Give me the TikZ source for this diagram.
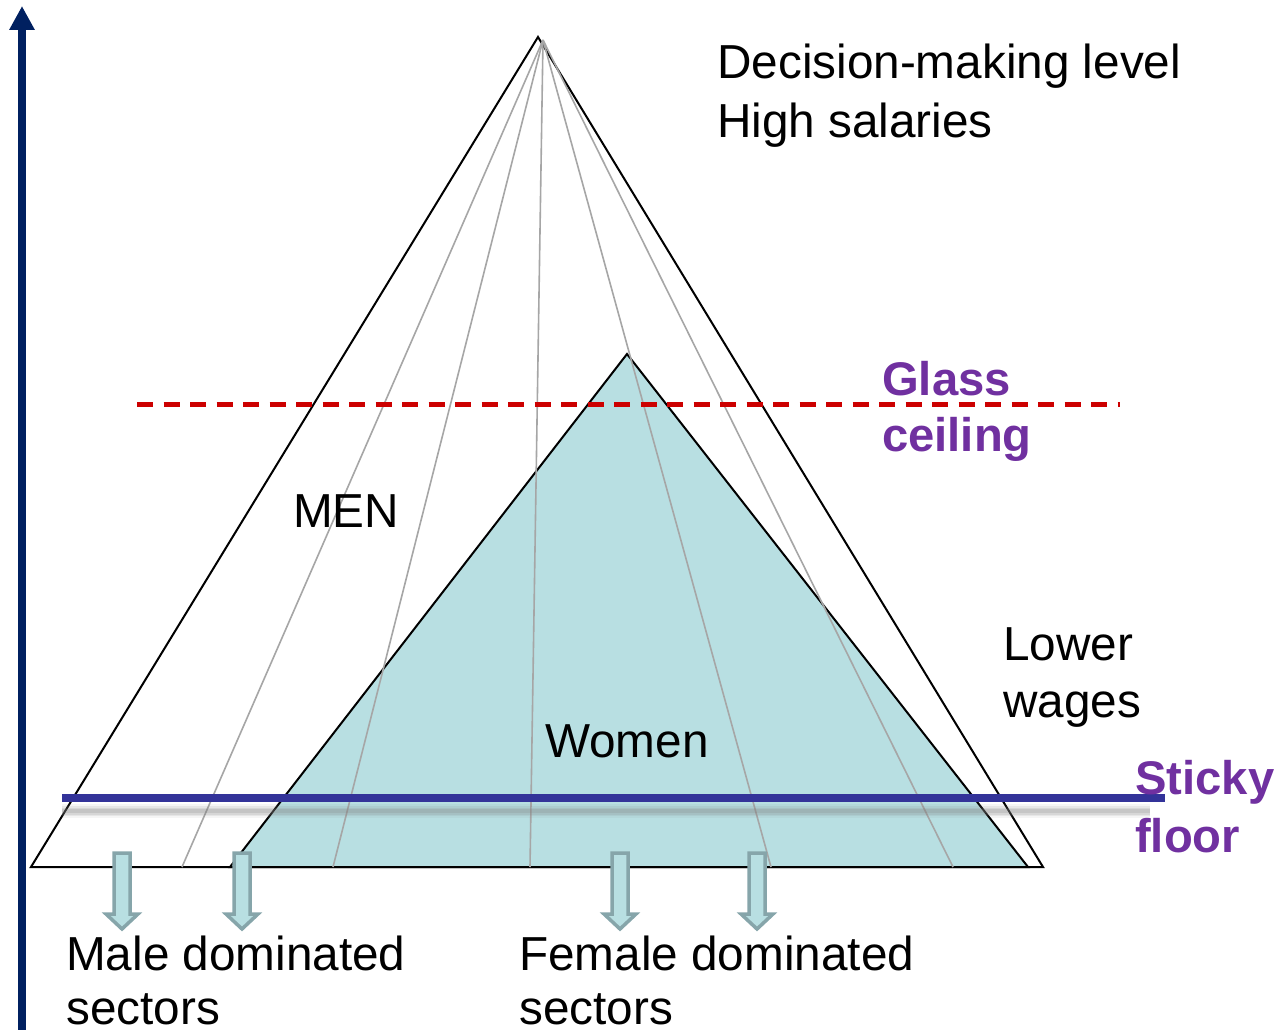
\documentclass[tikz,border=0pt]{standalone}
\usepackage{fontspec}
\setmainfont{Liberation Sans}
\usetikzlibrary{arrows.meta}
\definecolor{navy}{RGB}{0,32,96}
\definecolor{womenfill}{RGB}{184,223,226}
\definecolor{arrowedge}{RGB}{134,165,170}
\definecolor{glassred}{RGB}{204,0,0}
\definecolor{stickyblue}{RGB}{51,51,153}
\definecolor{labelpurple}{RGB}{112,48,160}
\definecolor{sectorgray}{RGB}{166,166,166}
\begin{document}
\begin{tikzpicture}[x=1pt,y=-1pt,
  txt/.style={inner sep=0pt,anchor=base west,font=\fontsize{47.7}{56}\selectfont},
  txtc/.style={inner sep=0pt,anchor=base,font=\fontsize{47.7}{56}\selectfont},
  bold/.style={txt,font=\fontsize{47.2}{56}\selectfont\bfseries,text=labelpurple},
  tri/.style={draw=black,line width=2pt,line join=miter},
  sector/.style={draw=sectorgray,line width=1.6pt},
  downarrow/.style={draw=arrowedge,fill=womenfill,line width=3.5pt,line join=miter}]
\useasboundingbox (0,0) rectangle (1275,1030);
% coordinates of the pyramids
\coordinate (mtop) at (538,37);
\coordinate (mleft) at (31,867);
\coordinate (mright) at (1043,867);
\coordinate (wtop) at (627,354);
\coordinate (wleft) at (230,867);
\coordinate (wright) at (1028,867);
\coordinate (fan) at (543,40);
\coordinate (s1) at (182,867);
\coordinate (s2) at (333,867);
\coordinate (s3) at (530,867);
\coordinate (s4) at (771,867);
\coordinate (s5) at (953,867);
% men pyramid
\draw[tri,fill=white] (mtop) -- (mright) -- (mleft) -- cycle;
% women pyramid
\draw[tri,fill=womenfill] (wtop) -- (wright) -- (wleft) -- cycle;
% sector lines
\foreach \s in {s1,s2,s3,s4,s5} \draw[sector] (fan) -- (\s);
% glass ceiling
\coordinate (gc1) at (137,404);
\coordinate (gc2) at (1120,404);
\draw[glassred,line width=5pt,dash pattern=on 16pt off 10.5pt] (gc1) -- (gc2);
% sticky floor shadow
\coordinate (sh1) at (62,811);
\coordinate (sh2) at (1150,811);
\foreach \w/\o in {14/0.08,10/0.12,7/0.15,4/0.2} \draw[gray,opacity=\o,line width=\w pt] (sh1) -- (sh2);
% sticky floor
\coordinate (sf1) at (62,798);
\coordinate (sf2) at (1165,798);
\draw[stickyblue,line width=7.5pt] (sf1) -- (sf2);
% vertical axis
\coordinate (ax0) at (22,1035);
\coordinate (ax1) at (22,6);
\draw[navy,line width=8.5pt,-{Triangle[width=24pt,length=24pt]}] (ax0) -- (ax1);
% down arrows
\foreach \cx in {122,242,620,757}
  \draw[downarrow] (\cx-8,853) -- (\cx+8,853) -- (\cx+8,914) -- (\cx+16,914) -- (\cx,929)
     -- (\cx-16,914) -- (\cx-8,914) -- cycle;
% texts
\node[txt] (dec) at (717,79) {Decision-making level};
\node[txt] (high) at (717,138) {High salaries};
\node[bold] (glass) at (882,395) {Glass};
\node[bold] (ceil) at (882,451) {ceiling};
\node[txt] (men) at (293,527) {MEN};
\node[txt] (lower) at (1003,660) {Lower};
\node[txt] (wages) at (1003,717) {wages};
\node[txtc] (women) at (627,757) {Women};
\node[bold] (sticky) at (1135,794) {Sticky};
\node[bold] (floor) at (1135,852) {floor};
\node[txt] (male) at (66,970) {Male dominated};
\node[txt] (msec) at (66,1024) {sectors};
\node[txt] (female) at (519,970) {Female dominated};
\node[txt] (fsec) at (519,1024) {sectors};
\end{tikzpicture}
\end{document}
